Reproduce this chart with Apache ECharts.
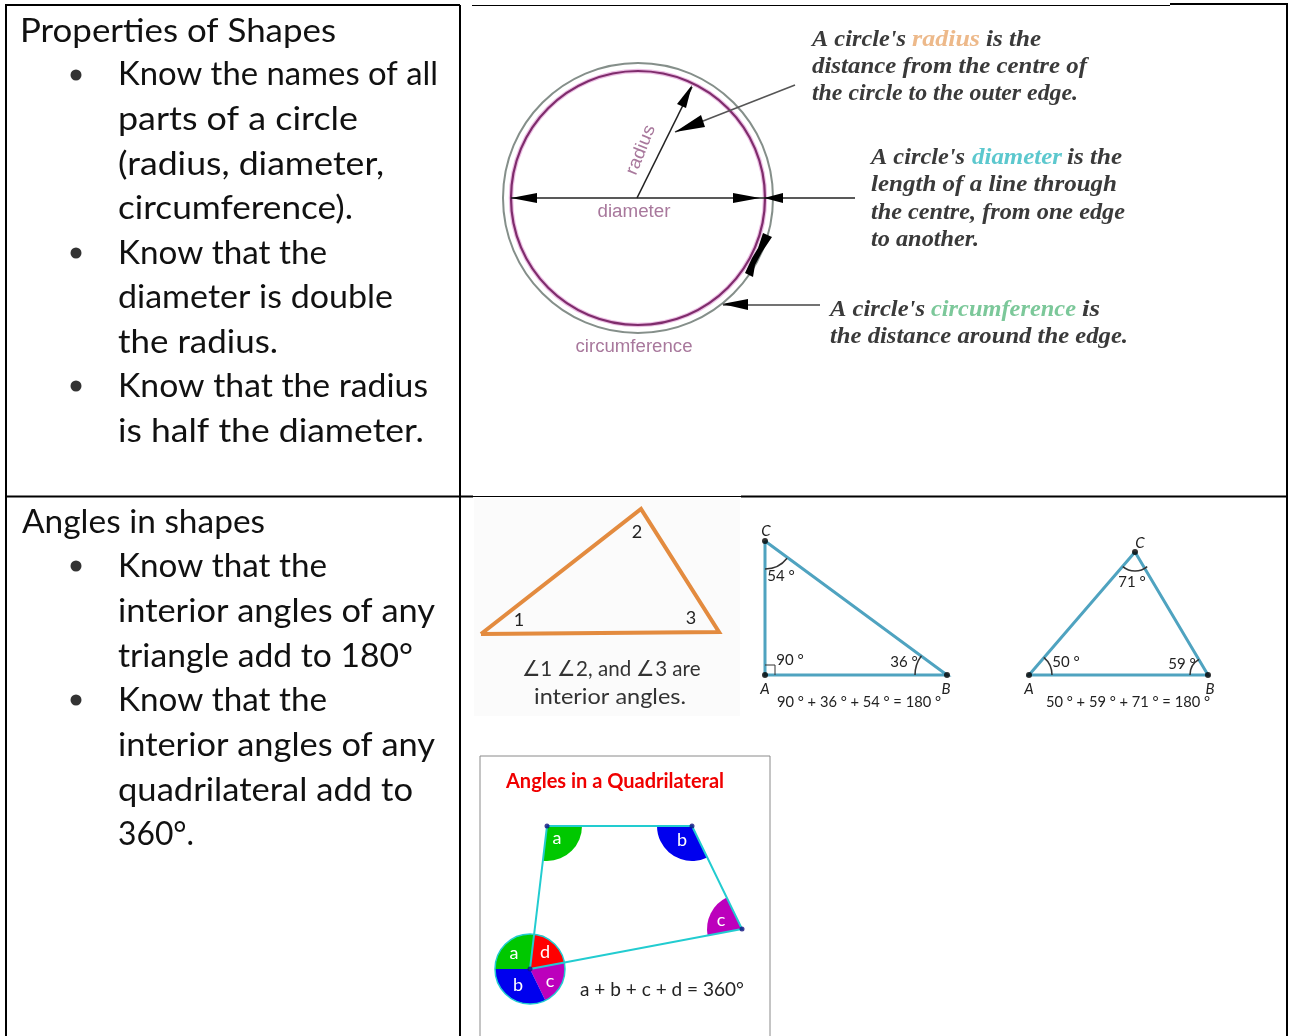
<!DOCTYPE html>
<html><head><meta charset="utf-8">
<style>html,body{margin:0;padding:0;background:#fff}#c{width:1291px;height:1036px}</style>
<script src="https://cdn.jsdelivr.net/npm/echarts@6/dist/echarts.min.js"></script>
</head><body><div id="c"></div>
<script>
// ---- data, in picture units ----
const tableRules = [
  [[6,1036],[6,5],[460,5]], [[460,5],[460,1036]], [[1170,4],[1287,4],[1287,1036]],
  [[6,496.5],[473,496.5]], [[741,496.5],[1287,496.5]]
];
const thinRules = [[[472,5.5],[1170,5.5]], [[473,496.5],[741,496.5]]];
const quadFrame = [[480,1036],[480,756],[770,756],[770,1036]];
const imagePatch = [[474,498],[740,498],[740,716],[474,716]];

const circleEllipses = [[638,198,135,135,'#858f8a',2],[638,198,127,127,'#ecbfe4',4.5],[638,198,127,127,'#7f2c6c',2.2]];
const diameterLine = [[511,198],[855,198]];
const radiusLine = [[637,198],[692,87]];
const radiusPointer = [[795,85],[675,132]];
const circumferencePointer = [[820,305],[723,305]];
const circleHeads = [
  [[511,198],[537,193],[537,203]], [[760,198],[733,193],[733,203]], [[764,198],[783,193],[783,203]],
  [[692,85],[686,108],[677,104]], [[675,132],[705,127],[701,115]],
  [[763,233],[772,237],[762,252],[755,265],[753,277],[745,273],[752,258],[758,248]],
  [[722,304],[748,299],[748,310]]
];
const circleLabels = [['diameter',634,212,0,73],['circumference',634,347,0,117],['radius',641,150,68,52]];

// text, x, y, rotation, width
const leftBody = [
  ['Properties of Shapes',20,31,0,316],['Know the names of all',118,74,0,320],['parts of a circle',118,119,0,240],
  ['(radius, diameter,',118,164,0,266],['circumference).',118,208,0,235],['Know that the',118,253,0,209],
  ['diameter is double',118,297,0,275],['the radius.',118,342,0,160],['Know that the radius',118,386,0,310],
  ['is half the diameter.',118,431,0,306],['Angles in shapes',22,522,0,243],['Know that the',118,566,0,209],
  ['interior angles of any',118,611,0,317],['triangle add to 180°',118,656,0,295],['Know that the',118,700,0,209],
  ['interior angles of any',118,745,0,317],['quadrilateral add to',118,790,0,295],['360°.',118,834,0,76]
];
const bullets = [[76,75],[76,253],[76,386],[76,566],[76,700]];

const handDark = [
  ["A circle's",812,40,0,94],['is the',986,40,0,55],['distance from the centre of',812,67,0,275],['the circle to the outer edge.',812,94,0,266],
  ["A circle's",871,158,0,94],['is the',1067,158,0,55],['length of a line through',871,185,0,246],['the centre, from one edge',871,213,0,254],['to another.',871,240,0,108],
  ["A circle's",830,310,0,95],['is',1082,310,0,18],['the distance around the edge.',830,337,0,298]
];
const handRadius = [['radius',912,40,0,68]];
const handDiameter = [['diameter',972,158,0,90]];
const handCircumference = [['circumference',931,310,0,145]];

const orangeTriangle = [[481,634],[641,509],[719,632],[481,634]];
const orangeNumbers = [['1',519,620],['2',637,532],['3',691,618]];
const orangeCaption = [['∠1 ∠2, and ∠3 are',611,669,0,179],['interior angles.',610,697,0,152]];

const rightTriangle = [[765,541],[765,675],[947,675],[765,541]];
const rightSquare = [[765,665],[775,665],[775,675]];
const acuteTriangle = [[1135,552],[1029,675],[1208,675],[1135,552]];
const triangleDots = [[765,541],[765,675],[947,675],[1135,552],[1029,675],[1208,675]];
const triangleArcs = [
  [765,541,28,38,90],[947,675,32,180,217],
  [1135,552,19,50,130],[1029,675,23,310,360],[1208,675,18,180,240]
];
const triangleVertexLabels = [['C',766,531],['A',765,689],['B',946,689],['C',1140,543],['A',1029,689],['B',1210,689]];
const triangleAngleLabels = [['54 °',781,576],['90 °',790,660],['36 °',904,662],['71 °',1132,582],['50 °',1066,662],['59 °',1182,664]];
const triangleSums = [['90 ° + 36 ° + 54 ° = 180 °',859,702,0,164],['50 ° + 59 ° + 71 ° = 180 °',1128,702,0,164]];

const quadOutline = [[547,826],[692,826],[742,929],[530,969],[547,826]];
const quadDots = [[547,826],[692,826],[742,929],[530,969]];
const quadSectors = [
  [547,826,35,0,97,'#00c800'],[692,826,35,64,180,'#0000ee'],[742,929,35,169,244,'#bc00bc'],
  [530,969,35,180,277,'#00c800'],[530,969,35,277,349,'#ff0000'],[530,969,35,349,424,'#bc00bc'],[530,969,35,64,180,'#0000ee']
];
const quadCircle = [[530,969,35,35,'#22ccd0',1.5]];
const quadLetters = [['a',557,838],['b',682,840],['c',721,920],['a',514,953],['d',545,952],['b',518,985],['c',550,981]];
const quadTitle = [['Angles in a Quadrilateral',506,782,0,218]];
const quadSum = [['a + b + c + d = 360°',580,990,0,164]];

// ---- series helpers: everything goes through the hidden axes ----
const ruler = document.createElement('canvas').getContext('2d');
const measure = (s,font) => { ruler.font = font; return ruler.measureText(s).width; };
let layer = 1;
const base = t => ({type:t, silent:true, animation:false, z:layer++, clip:false});
const path = (pts,color,width) => Object.assign(base('line'),{data:pts,showSymbol:false,symbol:'none',
  lineStyle:{color,width,join:'miter',cap:'butt'}});
const fill = (pts,color) => Object.assign(base('custom'),{data:pts,
  renderItem:(p,api)=> p.dataIndex? null : ({type:'polygon',shape:{points:pts.map(q=>api.coord(q))},style:{fill:color}})});
const dots = (pts,color,size) => Object.assign(base('scatter'),{data:pts,symbolSize:size,itemStyle:{color}});
const ellipses = rows => Object.assign(base('custom'),{data:rows.map(r=>r.slice(0,2)),
  renderItem:(p,api)=>{const r=rows[p.dataIndex],c=api.coord(r);
    return {type:'ellipse',shape:{cx:c[0],cy:c[1],rx:r[2],ry:r[3]},style:{fill:'none',stroke:r[4],lineWidth:r[5]}};}});
const arcs = (rows,color,width) => Object.assign(base('custom'),{data:rows.map(r=>r.slice(0,2)),
  renderItem:(p,api)=>{const r=rows[p.dataIndex],c=api.coord(r);
    return {type:'arc',shape:{cx:c[0],cy:c[1],r:r[2],startAngle:r[3]*Math.PI/180,endAngle:r[4]*Math.PI/180,clockwise:true},
      style:{fill:'none',stroke:color,lineWidth:width}};}});
const sectors = rows => Object.assign(base('custom'),{data:rows.map(r=>r.slice(0,2)),
  renderItem:(p,api)=>{const r=rows[p.dataIndex],c=api.coord(r);
    return {type:'sector',shape:{cx:c[0],cy:c[1],r0:0,r:r[2],startAngle:r[3]*Math.PI/180,endAngle:r[4]*Math.PI/180,clockwise:true},
      style:{fill:r[5]}};}});
const texts = (rows,font,color,align) => Object.assign(base('custom'),{data:rows.map(r=>[r[1],r[2]]),
  renderItem:(p,api)=>{const r=rows[p.dataIndex],c=api.coord([r[1],r[2]]);
    return {type:'text',x:c[0],y:c[1],rotation:(r[3]||0)*Math.PI/180,
      scaleX:r[4]? r[4]/measure(r[0],font):1,
      style:{text:r[0],font,fill:color,textAlign:align||'left',textVerticalAlign:'middle'}};}});

const HAND = 'italic bold 24px "Liberation Serif"';
const series = [
  fill(imagePatch,'#fbfbfb'),
  ...tableRules.map(r=>path(r,'#000',2)),
  ...thinRules.map(r=>path(r,'#000',1)),
  path(quadFrame,'#8a8a8a',1),
  ...circleEllipses.map(e=>ellipses([e])),
  path(diameterLine,'#222',1.6), path(radiusLine,'#222',1.6),
  path(radiusPointer,'#555',1.6), path(circumferencePointer,'#444',1.6),
  ...circleHeads.map(h=>fill(h,'#000')),
  texts(circleLabels,'18px "Liberation Sans"','#a8789c','center'),
  texts(leftBody,'33px Lato','#111'),
  dots(bullets,'#000',11),
  texts(handDark,HAND,'#3a3a3a'), texts(handRadius,HAND,'#edb98a'),
  texts(handDiameter,HAND,'#5cc8ce'), texts(handCircumference,HAND,'#7cc89a'),
  path(orangeTriangle,'#e38b3f',4),
  texts(orangeNumbers,'18px Lato','#222','center'),
  texts(orangeCaption,'22px Lato','#333','center'),
  path(rightTriangle,'#4fa3c0',3), path(rightSquare,'#333',1), path(acuteTriangle,'#4fa3c0',3),
  arcs(triangleArcs,'#333',1.5),
  dots(triangleDots,'#000',6),
  texts(triangleVertexLabels,'italic 15px Lato','#222','center'),
  texts(triangleAngleLabels,'15px Lato','#222','center'),
  texts(triangleSums,'15px Lato','#222','center'),
  sectors(quadSectors),
  ellipses(quadCircle),
  path(quadOutline,'#22ccd0',2),
  dots(quadDots,'#101080',5),
  texts(quadLetters,'18px Lato','#fff','center'),
  texts(quadTitle,'bold 20px Lato','#f00000'),
  texts(quadSum,'20px Lato','#222')
];

const chart = echarts.init(document.getElementById('c'),null,{renderer:'canvas'});
chart.setOption({
  animation:false, backgroundColor:'#fff',
  grid:{left:0,right:0,top:0,bottom:0},
  xAxis:{type:'value',min:0,max:1291,show:false},
  yAxis:{type:'value',min:0,max:1036,inverse:true,show:false},
  series
});
</script></body></html>
